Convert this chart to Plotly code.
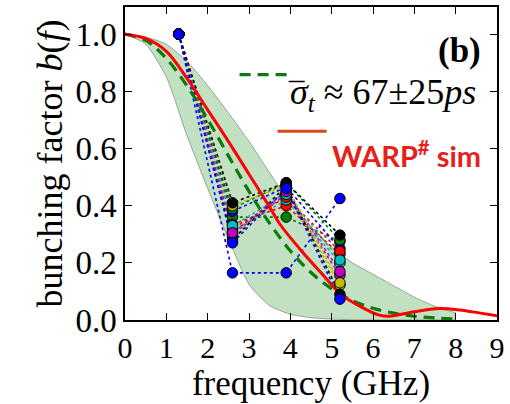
import plotly.graph_objects as go

# ---------------- data ----------------
freq_meas = [1.3, 2.6, 3.9, 5.2]
shot_colors = ["#0000ff", "#008000", "#ff0000", "#00bfbf", "#bf00bf", "#bfbf00", "#000000",
               "#0000ff", "#008000", "#ff0000", "#00bfbf", "#bf00bf", "#bfbf00", "#000000", "#0000ff"]
shots = [
    [1.0, 0.165, 0.165, 0.425],
    [1.0, 0.36, 0.36, 0.275],
    [1.0, 0.335, 0.40, 0.23],
    [1.0, 0.31, 0.42, 0.20],
    [1.0, 0.30, 0.44, 0.157],
    [1.0, 0.29, 0.45, 0.122],
    [1.0, 0.28, 0.47, 0.09],
    [1.0, 0.38, 0.465, 0.25],
    [1.0, 0.39, 0.48, 0.28],
    [1.0, 0.32, 0.43, 0.24],
    [1.0, 0.33, 0.44, 0.21],
    [1.0, 0.305, 0.45, 0.17],
    [1.0, 0.40, 0.47, 0.13],
    [1.0, 0.41, 0.48, 0.297],
    [1.0, 0.27, 0.46, 0.073],
]

warp_f = [0, 0.5, 1, 1.5, 2, 2.5, 3, 3.5, 3.75, 4.25, 4.75, 5.25, 5.7, 6.15, 6.4, 7.0, 7.6, 8.1, 8.6, 9.0]
warp_b = [1.0, 0.985, 0.94, 0.845, 0.735, 0.625, 0.51, 0.395, 0.335, 0.245, 0.164, 0.087,
          0.047, 0.017, 0.013, 0.029, 0.04, 0.035, 0.024, 0.015]

fit_f = [0, 0.5, 1, 1.5, 2, 2.5, 3, 3.5, 4, 4.5, 5, 5.5, 6, 6.5, 7, 7.5, 8]
fit_b = [1.0, 0.978, 0.915, 0.819, 0.702, 0.575, 0.450, 0.338, 0.242, 0.166, 0.109,
         0.0685, 0.041, 0.024, 0.013, 0.007, 0.003]
band_upper = [1.0, 0.99, 0.965, 0.905, 0.82, 0.725, 0.625, 0.515, 0.41, 0.325, 0.255,
              0.2, 0.16, 0.12, 0.08, 0.048, 0.025]
band_lower = [1.0, 0.965, 0.85, 0.645, 0.46, 0.285, 0.125, 0.05, 0.02, 0.008, 0.003,
              0.001, 0, 0, 0, 0, 0]

x_ticks = [0, 1, 2, 3, 4, 5, 6, 7, 8, 9]
y_ticks = [0.0, 0.2, 0.4, 0.6, 0.8, 1.0]
y_tick_labels = ["0.0", "0.2", "0.4", "0.6", "0.8", "1.0"]

# ---------------- figure ----------------
fig = go.Figure()
edge = dict(color="rgba(90,110,90,0.55)", width=1, shape="spline", smoothing=0.6)
fig.add_trace(go.Scatter(x=fit_f, y=band_lower, mode="lines", line=edge, hoverinfo="skip"))
fig.add_trace(go.Scatter(x=fit_f, y=band_upper, mode="lines", line=edge, fill="tonexty",
                         fillcolor="rgba(0,128,0,0.24)", hoverinfo="skip"))

for vals, col in zip(shots, shot_colors):
    fig.add_trace(go.Scatter(x=freq_meas, y=vals, mode="lines",
                             line=dict(color=col, width=1.6, dash="dot")))

fig.add_trace(go.Scatter(x=fit_f, y=fit_b, mode="lines",
                         line=dict(color="#0a7a0a", width=3.2, dash="11px,7px", shape="spline")))
fig.add_trace(go.Scatter(x=warp_f, y=warp_b, mode="lines",
                         line=dict(color="#ff0000", width=3, shape="spline")))

for vals, col in zip(shots, shot_colors):
    fig.add_trace(go.Scatter(x=freq_meas, y=vals, mode="markers",
                             marker=dict(color=col, size=10.5, line=dict(color="black", width=1))))

serif = "Liberation Serif, DejaVu Serif, serif"
fig.update_layout(
    width=510, height=404,
    margin=dict(l=125, r=12, t=5, b=84),
    paper_bgcolor="white", plot_bgcolor="white",
    showlegend=False,
    font=dict(family=serif, color="black"),
)
axis_common = dict(showgrid=False, zeroline=False, showline=True, linecolor="black", linewidth=1.5,
                   mirror="ticks", ticks="inside", ticklen=7, tickwidth=1.2, tickcolor="black")
fig.update_xaxes(range=[0, 9], tickvals=x_ticks, tickfont=dict(family=serif, size=30),
                 title=dict(text="frequency (GHz)", font=dict(family=serif, size=35), standoff=2),
                 **axis_common)
fig.update_yaxes(range=[0, 1.095], tickvals=y_ticks, ticktext=y_tick_labels,
                 tickfont=dict(family=serif, size=33),
                 title=dict(text="bunching factor <i>b</i>(<i>f</i>)", font=dict(family=serif, size=36),
                            standoff=2),
                 **axis_common)

fig.add_annotation(text="<b>(b)</b>", xref="paper", yref="paper", x=0.962, y=0.86,
                   xanchor="right", yanchor="middle", showarrow=False,
                   font=dict(family=serif, size=35, color="black"))
fig.add_annotation(text="<i>σ</i><sub><i>t</i></sub> ≈ 67±25<i>ps</i>", xref="paper", yref="paper",
                   x=0.948, y=0.722, xanchor="right", yanchor="middle", showarrow=False,
                   font=dict(family=serif, size=36, color="black"))
fig.add_annotation(text="<b>WARP<sup>#</sup> sim</b>", xref="paper", yref="paper",
                   x=0.962, y=0.53, xanchor="right", yanchor="middle", showarrow=False,
                   font=dict(family="Lato", size=29, color="#e8201a"))
# overbar above sigma
fig.add_shape(type="line", xref="paper", yref="paper", x0=0.44, x1=0.483, y0=0.762, y1=0.762,
              line=dict(color="black", width=1.5))
fig.add_shape(type="line", xref="paper", yref="paper", x0=0.308, x1=0.442, y0=0.784, y1=0.784,
              line=dict(color="#0a7a0a", width=3.2, dash="11px,7px"))
fig.add_shape(type="line", xref="paper", yref="paper", x0=0.41, x1=0.542, y0=0.603, y1=0.603,
              line=dict(color="#d84a1b", width=3.2))

fig.write_html("out.html")
